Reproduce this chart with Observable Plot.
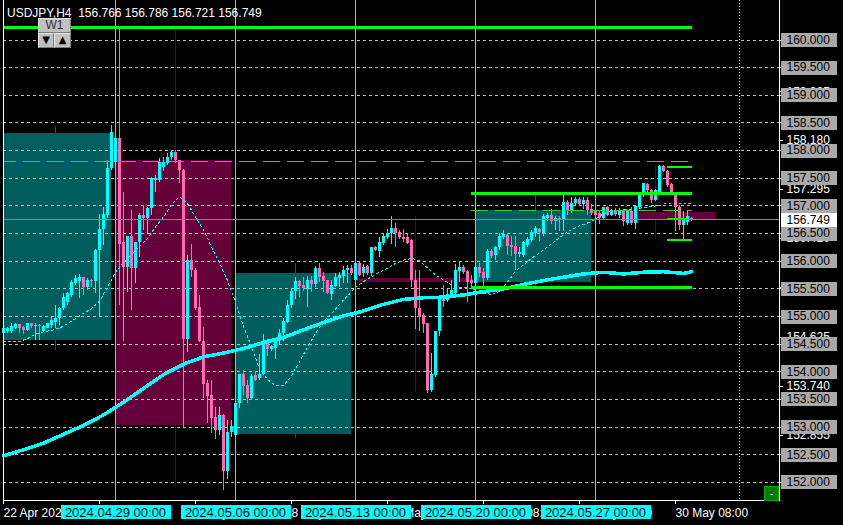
<!DOCTYPE html>
<html><head><meta charset="utf-8">
<script src="https://cdn.jsdelivr.net/npm/d3@7"></script>
<script src="https://cdn.jsdelivr.net/npm/@observablehq/plot@0.6"></script>
<style>
html,body{margin:0;padding:0;background:#000;}
#wrap{position:relative;width:843px;height:525px;background:#000;overflow:hidden;font-family:"Liberation Sans",Arial,sans-serif;}
#wrap svg{position:absolute;shape-rendering:crispEdges;}
.hdr{position:absolute;left:7px;top:7px;color:#fff;font-size:12px;line-height:12px;white-space:pre;}
.btn{position:absolute;background:#c0c0c0;color:#333;font-size:12px;text-align:center;line-height:12px;box-sizing:border-box;border-top:1px solid #e8e8e8;border-left:1px solid #e8e8e8;border-right:1px solid #7a7a7a;border-bottom:1px solid #7a7a7a;}
.tri{color:#000;font-family:"DejaVu Sans",sans-serif;font-size:10px;}
.gbtn{position:absolute;left:764px;top:486px;width:15px;height:15px;box-sizing:border-box;background:#007a00;border:1px solid #00b000;color:#fff;font-size:11px;line-height:12px;text-align:center;}
</style></head><body>
<div id="wrap">
</div>
<script>
// ---------- DATA ----------
const symbolTitle = "USDJPY,H4  156.766 156.786 156.721 156.749";

// H4 candles, bar index 0 = 22 Apr 2024 08:00
const open = [
154.70,154.72,154.73,154.78,154.85,154.81,154.75,154.87,154.82,154.84,
154.72,154.79,154.84,154.90,154.96,155.14,155.26,155.38,155.59,155.64,
155.70,155.52,155.66,155.64,156.20,156.57,156.83,157.67,157.79,158.21,
156.34,155.88,156.45,155.86,156.34,156.83,156.77,156.95,157.46,157.46,
157.69,157.76,157.87,157.97,157.82,157.64,154.58,156.02,155.84,155.17,
154.54,153.79,153.57,153.18,152.93,153.21,152.20,152.90,152.85,153.42,
153.95,153.75,153.51,153.93,153.87,153.96,154.51,154.40,154.42,154.57,
154.69,154.90,155.20,155.46,155.64,155.56,155.48,155.65,155.58,155.87,
155.72,155.65,155.40,155.55,155.68,155.72,155.83,155.86,155.65,155.96,
155.78,155.90,155.77,156.25,156.18,156.32,156.42,156.50,156.60,156.51,
156.43,156.42,156.37,155.66,155.14,155.02,154.87,153.66,153.93,154.72,
155.36,155.29,155.35,155.41,155.82,155.89,155.82,155.66,155.60,155.89,
155.80,155.68,156.18,156.10,156.24,156.43,156.46,156.28,156.27,156.12,
156.10,156.28,156.37,156.50,156.57,156.49,156.77,156.83,156.72,156.77,
156.74,157.07,156.91,157.04,157.11,157.03,157.10,156.93,156.89,156.86,
156.77,156.97,156.83,156.92,156.83,156.91,156.68,156.89,156.69,156.98,
157.19,157.39,157.28,157.10,157.25,157.71,157.63,157.39,157.23,156.97,
156.65,156.70,156.766];
const high = [
154.81,154.80,154.87,154.87,154.86,154.82,154.88,154.88,154.87,154.85,
154.83,154.88,154.99,155.20,155.17,155.41,155.44,155.65,155.75,155.76,
155.71,155.68,155.67,156.22,156.84,156.97,157.82,158.45,158.22,160.22,
157.25,156.45,156.92,156.34,156.86,157.01,156.98,157.52,157.55,157.85,
157.88,157.94,158.01,158.00,157.82,157.66,156.10,156.30,155.86,155.38,
154.81,153.84,153.84,153.36,153.36,153.22,153.12,153.12,153.43,153.96,
154.02,153.85,153.96,153.99,154.32,154.67,154.58,154.47,154.60,154.76,
154.96,155.29,155.48,155.70,155.66,155.70,155.72,155.72,155.90,155.96,
155.80,155.66,155.65,155.78,155.80,155.90,155.92,155.92,155.96,155.98,
155.94,155.92,156.25,156.27,156.43,156.50,156.57,156.81,156.69,156.56,
156.57,156.49,156.39,155.83,155.83,155.06,154.88,154.33,154.73,155.36,
155.56,155.48,155.66,155.94,155.98,155.92,155.83,155.74,155.90,155.95,
155.86,156.21,156.22,156.27,156.50,156.56,156.50,156.45,156.45,156.25,
156.35,156.42,156.56,156.63,156.59,156.84,156.86,156.93,156.81,156.81,
157.19,157.10,157.16,157.16,157.15,157.16,157.16,157.02,156.91,156.89,
156.98,156.99,156.94,156.96,156.96,156.93,156.92,156.98,156.99,157.21,
157.41,157.40,157.29,157.29,157.73,157.73,157.64,157.40,157.25,157.01,
156.89,156.89,156.786];
const low = [
154.63,154.70,154.70,154.76,154.70,154.67,154.73,154.78,154.57,154.57,
154.71,154.78,154.78,154.78,154.84,155.11,155.20,155.35,155.56,155.32,
155.38,155.47,155.53,155.42,154.98,156.28,156.78,157.64,157.79,155.20,
154.54,155.44,155.11,155.59,156.07,156.56,156.50,156.83,157.25,157.43,
157.63,157.73,157.83,157.76,157.40,152.99,154.35,155.71,155.11,154.53,
153.51,153.06,152.89,152.77,152.85,151.85,152.06,152.82,152.84,153.33,
153.57,153.42,153.50,153.83,153.84,153.93,154.27,154.37,154.23,154.50,
154.54,154.87,155.14,155.30,155.35,155.46,155.17,155.44,155.52,155.62,
155.44,155.39,155.29,155.52,155.53,155.60,155.60,155.74,155.48,155.72,
155.71,155.74,155.72,156.18,156.06,156.28,156.40,156.31,156.24,156.39,
156.34,156.30,155.52,154.76,154.72,154.70,153.61,153.63,153.90,154.63,
155.17,155.26,155.32,155.38,155.62,155.76,155.26,155.52,155.59,155.71,
155.54,155.65,156.04,156.01,156.19,156.39,156.10,156.08,155.84,156.07,
156.07,156.25,156.34,156.43,156.36,156.45,156.71,156.66,156.56,156.53,
156.53,156.83,156.87,157.01,156.99,156.93,156.83,156.83,156.80,156.66,
156.74,156.81,156.80,156.81,156.77,156.63,156.65,156.65,156.57,156.93,
157.16,157.25,157.04,157.08,157.23,157.61,157.34,157.19,156.54,156.56,
156.40,156.65,156.721];
const close = [
154.78,154.78,154.82,154.85,154.78,154.75,154.87,154.82,154.84,154.82,
154.82,154.87,154.93,154.96,155.14,155.35,155.41,155.62,155.69,155.71,
155.52,155.66,155.63,156.20,156.57,156.84,157.67,158.32,158.21,156.31,
155.88,156.45,155.86,156.34,156.83,156.77,156.95,157.49,157.49,157.79,
157.79,157.87,157.97,157.82,157.64,154.58,156.02,155.83,155.14,154.54,
153.77,153.55,153.15,152.93,153.21,152.20,152.90,153.01,153.42,153.95,
153.73,153.51,153.91,153.85,153.96,154.49,154.40,154.45,154.57,154.70,
154.91,155.20,155.46,155.64,155.54,155.50,155.65,155.58,155.87,155.71,
155.64,155.41,155.56,155.70,155.74,155.84,155.86,155.77,155.95,155.74,
155.89,155.77,156.25,156.19,156.33,156.45,156.50,156.60,156.50,156.42,
156.39,156.32,155.65,155.14,154.99,154.86,153.66,153.96,154.73,155.32,
155.28,155.39,155.47,155.83,155.89,155.80,155.62,155.60,155.89,155.78,
155.68,156.18,156.08,156.24,156.45,156.49,156.27,156.25,156.12,156.16,
156.33,156.39,156.51,156.59,156.51,156.80,156.83,156.72,156.77,156.74,
157.07,156.91,157.05,157.11,157.03,157.10,156.92,156.87,156.83,156.77,
156.97,156.83,156.92,156.84,156.92,156.71,156.89,156.69,156.99,157.19,
157.40,157.28,157.10,157.28,157.71,157.63,157.37,157.23,156.97,156.65,
156.74,156.80,156.749];

// slow moving average (thick line), sampled bars
const slowBars = [0,5,10,15,20,25,30,35,40,45,50,55,60,65,70,75,80,85,90,95,100,105,110,115,120,125,130,135,140,145,150,155,160,165,170,172];
const slowMA = [152.48,152.59,152.71,152.87,153.03,153.22,153.45,153.70,153.95,154.14,154.27,154.34,154.42,154.53,154.62,154.76,154.89,155.01,155.10,155.22,155.31,155.34,155.35,155.39,155.45,155.50,155.58,155.65,155.71,155.77,155.80,155.77,155.80,155.81,155.78,155.81];

// fast moving average (dotted line), sampled bars
const fastBars = [0,4,6,8,10,12,14,16,18,20,22,24,26,28,30,32,34,36,38,40,42,44,46,48,50,52,54,56,58,60,62,64,66,68,70,72,74,76,78,80,82,84,86,88,90,92,94,96,98,100,102,104,106,108,110,112,114,116,118,120,122,124,126,128,130,132,134,136,138,140,142,144,146,148,150,152,154,156,158,160,162,164,166,168,170,172];
const fastMA = [154.55,154.55,154.60,154.68,154.72,154.75,154.79,154.87,154.96,155.06,155.14,155.28,155.53,155.80,155.98,156.12,156.26,156.41,156.62,156.80,157.02,157.17,157.04,156.80,156.57,156.26,155.97,155.65,155.26,154.82,154.45,154.05,153.86,153.75,153.75,153.93,154.18,154.45,154.69,154.91,155.05,155.22,155.37,155.53,155.63,155.72,155.80,155.87,155.96,156.02,156.05,156.01,155.88,155.75,155.66,155.57,155.53,155.52,155.48,155.42,155.40,155.45,155.62,155.82,155.93,156.05,156.15,156.26,156.37,156.48,156.57,156.64,156.69,156.76,156.86,156.90,156.92,156.93,156.94,156.97,156.99,157.01,157.05,157.05,157.05,157.04];

// weekly (W1) candles overlay: bar span, wick bar, OHLC
const weekFrom = [-2.1, 28.1, 57.9, 88.4, 117.9, 158.4];
const weekTo   = [26.9, 56.9, 86.9, 117.4, 146.9, 177.9];
const weekWick = [13, 43, 73, 103, 133, 163];
const weekOpen  = [154.57, 157.82, 152.87, 155.68, 155.62, 156.88];
const weekHigh  = [158.44, 160.22, 155.95, 156.80, 157.19, 157.73];
const weekLow   = [154.39, 151.90, 152.79, 153.63, 155.53, 156.40];
const weekClose = [158.31, 153.03, 155.78, 155.62, 156.92, 156.75];

// horizontal level objects
const gridLevels = [152,152.5,153,153.5,154,154.5,155,155.5,156,156.5,157,157.5,158,158.5,159,159.5,160];
const thickLevels = [160.226, 157.219, 155.524];
const thickFrom = [-1, 117.1, 117.1];
const thickTo = [172.2, 172.2, 172.2];
const dashLevels = [157.81, 156.91];
const dashFrom = [-1, 117.1];
const dashTo = [172.2, 172.2];
const rangeLevels = [157.70, 156.39];
const rangeFrom = [166, 166];
const rangeTo = [172.2, 172.2];
const thinLevels = [156.78];
const thinFrom = [166];
const thinTo = [171];
const bidPrice = 156.749;

// price-scale labels drawn by the terminal
const scaleLabels = [159.065, 158.18, 157.295, 156.41, 155.525, 154.625, 153.74, 152.855];

// time axis
const xTicks = [0, 24, 48, 72, 96, 120, 144, 168];
const xTickLabels = ["22 Apr 2024","26 Apr 08:00","2 May 08:00","8 May 08:00","14 May 08:00","20 May 08:00","24 May 08:00","30 May 08:00"];
const separators = [28, 58, 88, 118, 148];
const sepLabels = ["2024.04.29 00:00","2024.05.06 00:00","2024.05.13 00:00","2024.05.20 00:00","2024.05.27 00:00"];
const vLines = [184];

// ---------- BUILD ----------
const W = 843, H = 525;
const xDomain = [0, 194];
const yDomain = [151.6727, 160.7143];
const BULL = "#00ffff", BEAR = "#ff69b4";
const TEAL = "#005e5e", MAROON = "#66003a";
const FONT = '"Liberation Sans", Arial, sans-serif';

const candles = open.map((o, i) => ({i, o, h: high[i], l: low[i], c: close[i]}));
const weeks = weekOpen.map((o, k) => ({from: weekFrom[k], to: weekTo[k], wick: weekWick[k], o, h: weekHigh[k], l: weekLow[k], c: weekClose[k]}));
const slow = slowBars.map((b, k) => ({i: b, v: slowMA[k]}));
const fast = fastBars.map((b, k) => ({i: b, v: fastMA[k]}));
const mk = (lv, f, t) => lv.map((p, k) => ({p, from: f[k], to: t[k]}));
const thick = mk(thickLevels, thickFrom, thickTo);
const dashed = mk(dashLevels, dashFrom, dashTo);
const ranges = mk(rangeLevels, rangeFrom, rangeTo);
const thins = mk(thinLevels, thinFrom, thinTo);
const colorOf = d => d.c >= d.o ? BULL : BEAR;

const main = Plot.plot({
  width: W, height: H,
  marginLeft: 3, marginRight: 64, marginTop: 0, marginBottom: 25,
  style: {background: "#000", color: "#fff", fontFamily: FONT, fontSize: "12px"},
  x: {domain: xDomain, label: null},
  y: {domain: yDomain, label: null},
  marks: [
    Plot.ruleX(weeks, {x: "wick", y1: "l", y2: "h", stroke: d => d.c >= d.o ? "#2f4f4f" : "#5a0030"}),
    Plot.rect(weeks, {x1: "from", x2: "to", y1: "o", y2: "c", fill: d => d.c >= d.o ? TEAL : MAROON, clip: true}),
    Plot.ruleY(gridLevels, {stroke: "#c0c0c0", strokeDasharray: "3,3"}),
    Plot.ruleX(separators, {stroke: "#00ffff"}),
    Plot.ruleX(vLines, {stroke: "#ffffff", strokeDasharray: "1,2"}),
    Plot.ruleX(candles, {x: "i", y1: "l", y2: "h", stroke: colorOf}),
    Plot.ruleX(candles, {x: "i", y1: "o", y2: "c", stroke: colorOf, strokeWidth: 3}),
    Plot.line(slow, {x: "i", y: "v", stroke: BULL, strokeWidth: 3.5}),
    Plot.line(fast, {x: "i", y: "v", stroke: BULL, strokeWidth: 1, strokeDasharray: "2,3"}),
    Plot.ruleY(dashed, {y: "p", x1: "from", x2: "to", stroke: "#32cd32", strokeDasharray: "17,7", clip: true}),
    Plot.ruleY(thick, {y: "p", x1: "from", x2: "to", stroke: "#00ff00", strokeWidth: 3, clip: true}),
    Plot.ruleY(ranges, {y: "p", x1: "from", x2: "to", stroke: "#00ff00", strokeWidth: 2}),
    Plot.ruleY(thins, {y: "p", x1: "from", x2: "to", stroke: "#00ff00", strokeWidth: 1}),
    Plot.ruleY([bidPrice], {stroke: "#778899"}),
    Plot.axisX({ticks: xTicks, anchor: "bottom", tickSize: 4, tickPadding: 4, textAnchor: "start",
      tickFormat: d => xTickLabels[xTicks.indexOf(d)], stroke: "#fff", fill: "#fff", label: null}),
    Plot.axisY({ticks: scaleLabels, anchor: "right", tickSize: 3, tickPadding: 4,
      tickFormat: d => d.toFixed(3), stroke: "#fff", fill: "#fff", label: null}),
    Plot.axisY({ticks: gridLevels, anchor: "right", tickSize: 3, tickFormat: () => "", stroke: "#fff", label: null}),
    Plot.frame({anchor: "left", stroke: "#fff"}),
    Plot.frame({anchor: "right", stroke: "#fff"}),
    Plot.frame({anchor: "bottom", stroke: "#fff"})
  ]
});

const priceBoxes = Plot.plot({
  width: 64, height: H,
  marginLeft: 2, marginRight: 6, marginTop: 0, marginBottom: 25,
  style: {background: "transparent", color: "#000", fontFamily: FONT, fontSize: "12px"},
  y: {domain: yDomain, axis: null},
  marks: [
    Plot.ruleY(gridLevels, {stroke: "#a9a9a9", strokeWidth: 14}),
    Plot.text(gridLevels, {y: d => d, text: d => d.toFixed(3), frameAnchor: "left", textAnchor: "start", dx: 5, fill: "#000"}),
    Plot.ruleY([bidPrice], {stroke: "#ffffff", strokeWidth: 14}),
    Plot.text([bidPrice], {y: d => d, text: d => d.toFixed(3), frameAnchor: "left", textAnchor: "start", dx: 5, fill: "#000"})
  ]
});

const sepBoxes = Plot.plot({
  width: W, height: 14,
  marginLeft: 3, marginRight: 64, marginTop: 0, marginBottom: 0,
  style: {background: "transparent", color: "#000", fontFamily: FONT, fontSize: "13px"},
  x: {domain: xDomain, axis: null},
  marks: [
    Plot.ruleX(separators, {stroke: "#00ffff", strokeWidth: 110}),
    Plot.text(separators, {x: d => d, text: (d, k) => sepLabels[k], frameAnchor: "middle", fill: "#000"})
  ]
});

const wrap = document.getElementById("wrap");
function place(el, left, top) { el.style.position = "absolute"; el.style.left = left + "px"; el.style.top = top + "px"; wrap.appendChild(el); }
place(main, 0, 0);
place(priceBoxes, 779, 0);
place(sepBoxes, 0, 505);

function div(cls, text, left, top, w, h) {
  const d = document.createElement("div");
  d.className = cls; d.textContent = text;
  d.style.left = left + "px"; d.style.top = top + "px";
  if (w) d.style.width = w + "px"; if (h) d.style.height = h + "px";
  wrap.appendChild(d); return d;
}
div("hdr", symbolTitle, 7, 7);
div("btn", "W1", 38, 18, 33, 15);
div("btn tri", "▼", 38, 33, 16, 15);
div("btn tri", "▲", 54, 33, 17, 15);
div("gbtn", "-", 764, 486);
</script>
</body></html>
